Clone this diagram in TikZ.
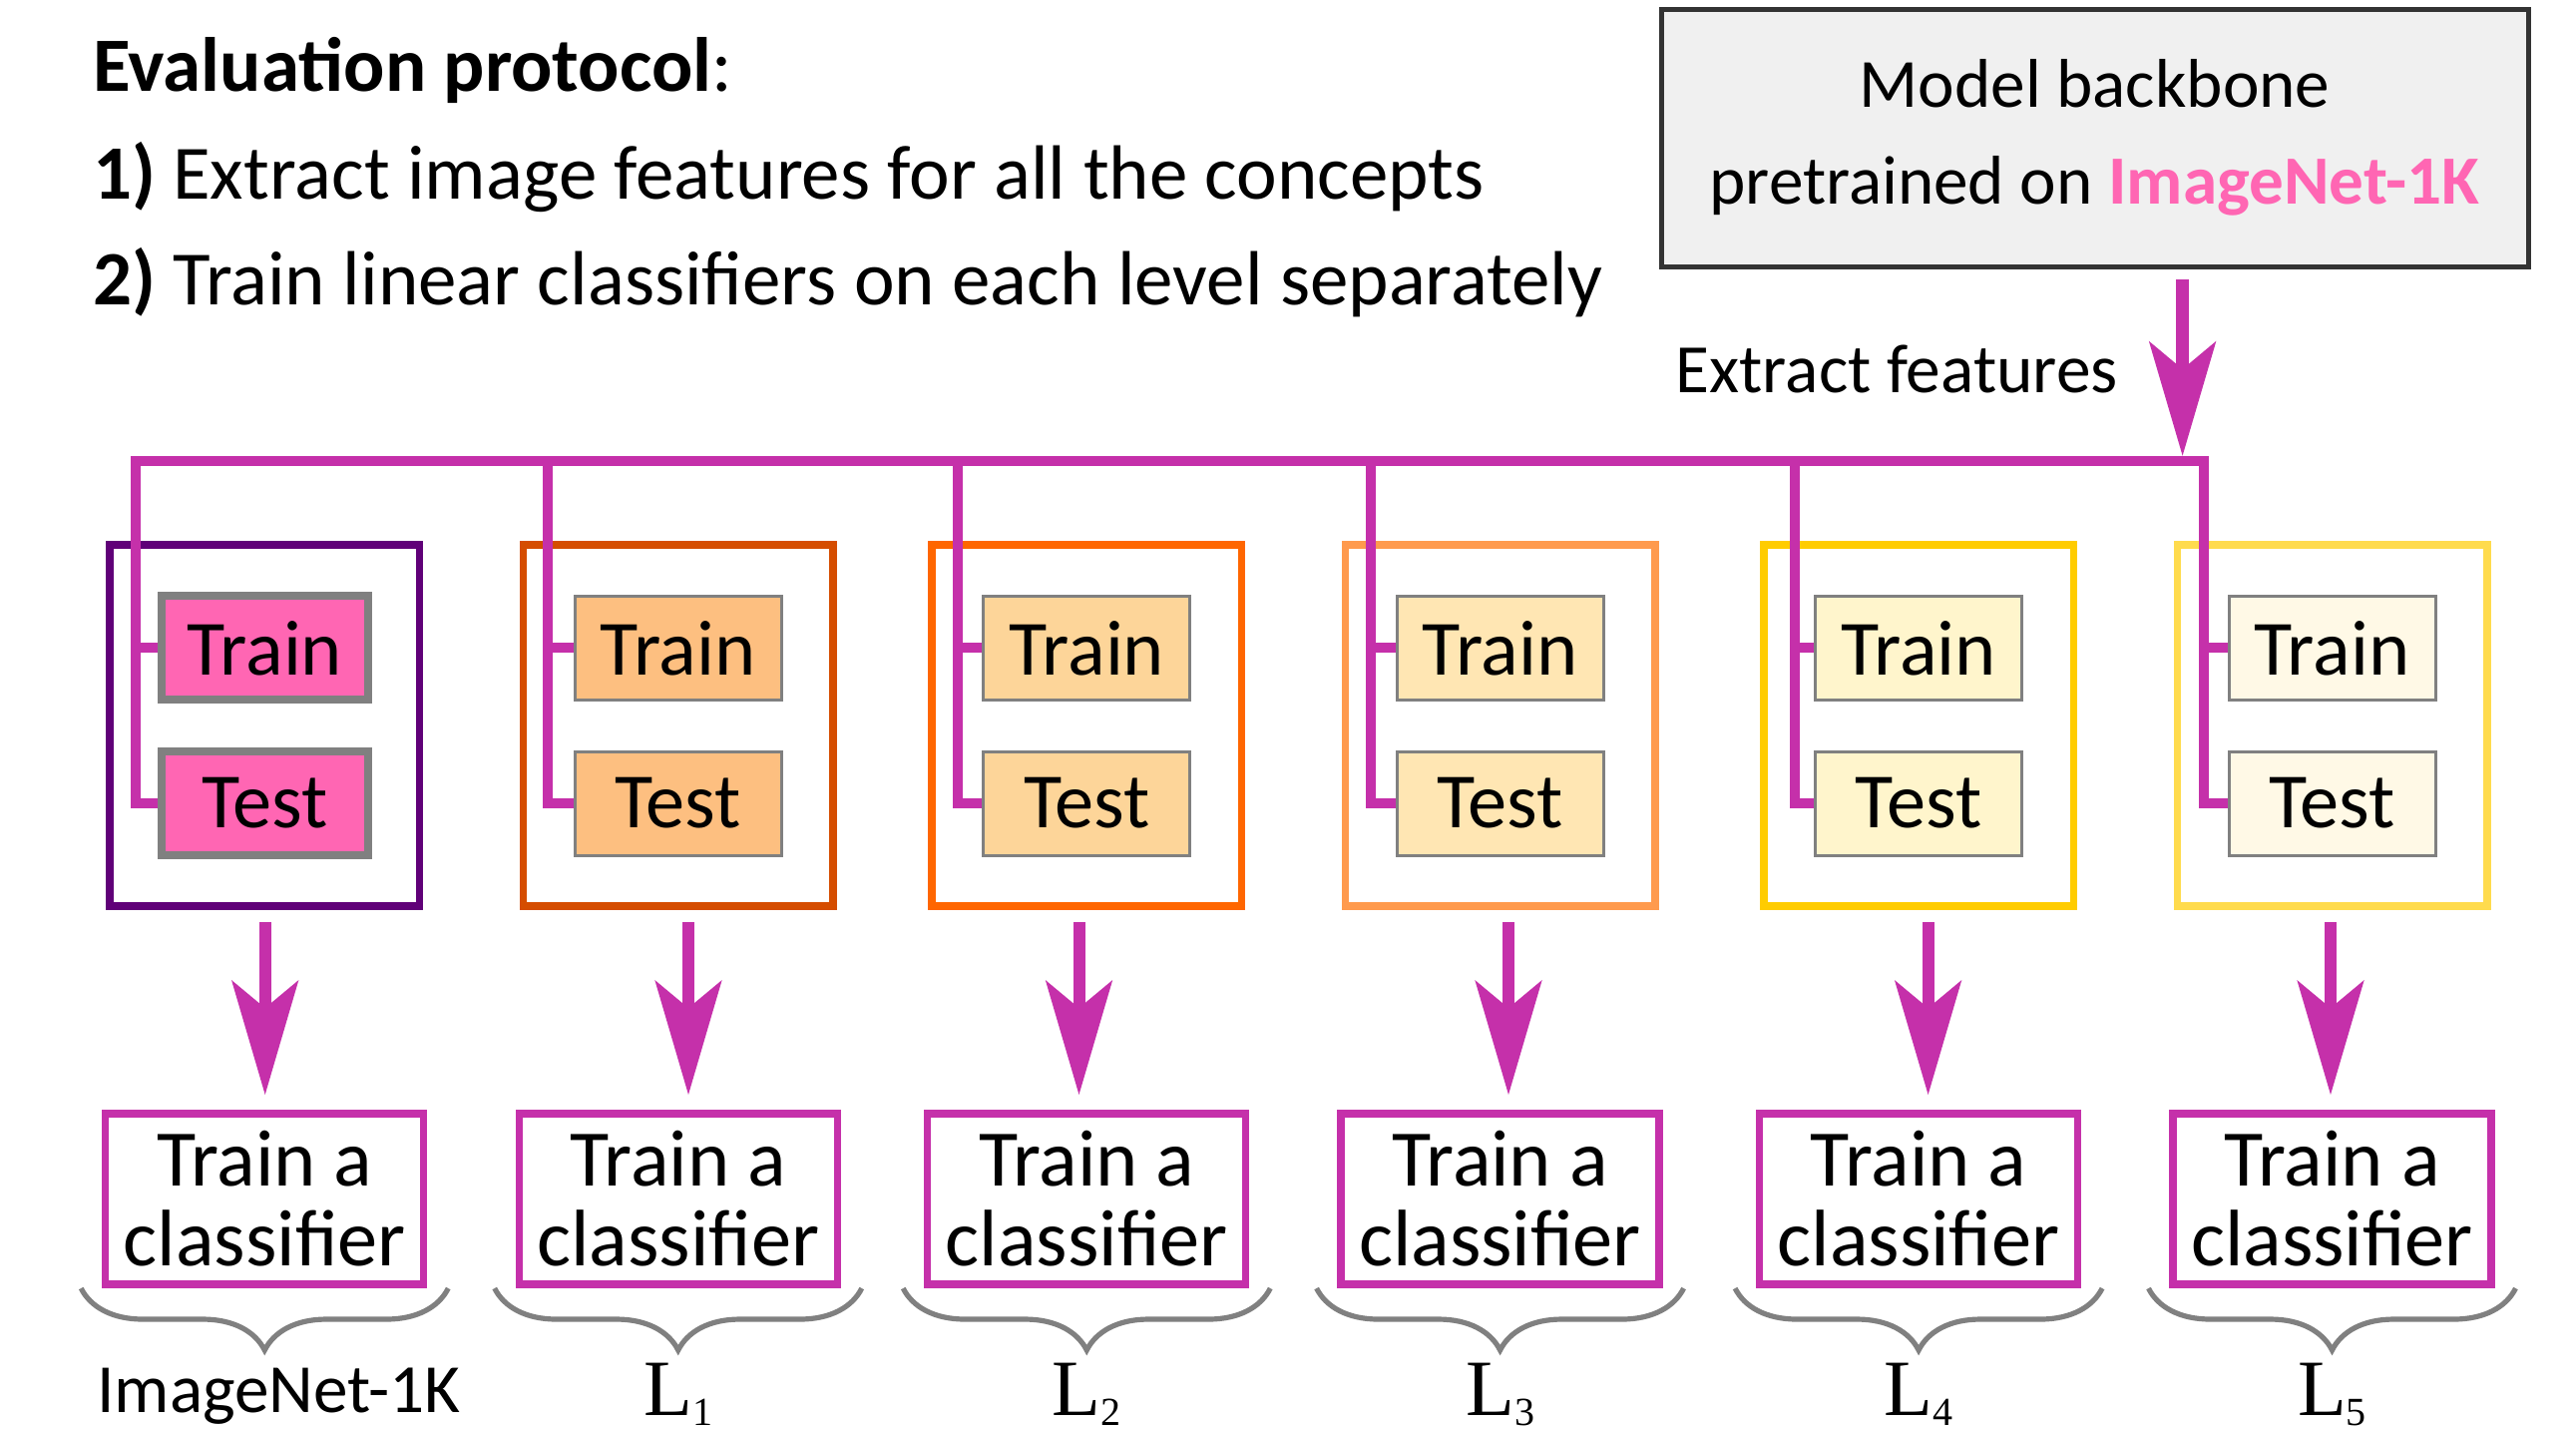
\documentclass[tikz,border=0pt]{standalone}
\usepackage{fontspec}
\setmainfont{Carlito}
\newfontfamily\tms{Liberation Serif}
\usetikzlibrary{arrows.meta,decorations.pathreplacing,calc}
\definecolor{mag}{HTML}{C530AA}
\definecolor{pinkI}{HTML}{FF66B3}
\definecolor{oc1}{HTML}{600078}
\definecolor{oc2}{HTML}{D54D00}
\definecolor{oc3}{HTML}{FF6600}
\definecolor{oc4}{HTML}{FF9A4D}
\definecolor{oc5}{HTML}{FFCC00}
\definecolor{oc6}{HTML}{FFDB4D}
\definecolor{fc1}{HTML}{FF66B3}
\definecolor{fc2}{HTML}{FDBF80}
\definecolor{fc3}{HTML}{FDD599}
\definecolor{fc4}{HTML}{FFE6B3}
\definecolor{fc5}{HTML}{FFF5CC}
\definecolor{fc6}{HTML}{FFF9E6}
\definecolor{boxgray}{HTML}{808080}
\definecolor{bbfill}{HTML}{F0F0F0}
\definecolor{bbdraw}{HTML}{333333}
\newcommand\Lsub[1]{{\tms\fontsize{40}{40}\selectfont L\raisebox{-5pt}{\fontsize{20}{20}\selectfont #1}}}
\begin{document}
\begin{tikzpicture}[x=0.5pt,y=-0.5pt,
  outerbox/.style={draw, line width=3.75pt, minimum width=155.25pt, minimum height=181pt, inner sep=0pt},
  tbox/.style={draw=boxgray, line width=1.5pt, minimum width=103.5pt, minimum height=52pt, inner sep=0pt, font=\fontsize{39.2}{39.2}\selectfont},
  clsbox/.style={draw=mag, line width=3.7pt, minimum width=159.5pt, minimum height=85.5pt, align=center, inner sep=0pt, font=\fontsize{40.2}{40}\selectfont},
  conn/.style={draw=mag, line width=5pt},
  arr/.style={draw=mag, line width=6pt, -{Stealth[length=57pt,width=33pt,inset=13.5pt]}},
  brc/.style={draw=boxgray, line width=2.6pt, decorate, decoration={brace, mirror, amplitude=31pt}},
  txt/.style={inner sep=0pt, font=\fontsize{38.5}{38.5}\selectfont},
  lbl/.style={inner sep=0pt, font=\fontsize{34.6}{34.6}\selectfont}]
\useasboundingbox (0,0) rectangle (2582,1432);

% title
\node[txt, anchor=base west] (t1) at (92.6,91) {\textbf{Evaluation protocol}:};
\node[txt, anchor=base west] (t2) at (92.6,199) {\textbf{1)} Extract image features for all the concepts};
\node[txt, anchor=base west] (t3) at (92.6,305) {\textbf{2)} Train linear classifiers on each level separately};

% backbone
\node[draw=bbdraw, fill=bbfill, line width=2.5pt, minimum width=434.5pt, minimum height=129pt, align=center, inner sep=0pt, font=\fontsize{34.6}{48.5}\selectfont] (bb) at (2099.5,138) {Model backbone\\pretrained on \textcolor{pinkI}{\textbf{ImageNet-1K}}};
\node[anchor=base east, inner sep=0pt, font=\fontsize{34.7}{34.7}\selectfont] (ef) at (2123,393) {Extract features};

% columns
\foreach \i/\cx/\vx/\ax/\oc/\fc/\lw in {
 1/265.25/135.5/265.7/oc1/fc1/4pt,
 2/679.75/549/690/oc2/fc2/1.5pt,
 3/1089.25/960/1081.5/oc3/fc3/1.5pt,
 4/1503.6/1374/1512/oc4/fc4/1.5pt,
 5/1923.1/1799/1932.6/oc5/fc5/1.5pt,
 6/2337.5/2209/2336/oc6/fc6/1.5pt}{
  \node[outerbox, draw=\oc] (o\i) at (\cx,727) {};
  \node[tbox, fill=\fc, line width=\lw] (tr\i) at (\cx,649.4) {Train};
  \node[tbox, fill=\fc, line width=\lw] (te\i) at (\cx,805) {Test};
  \coordinate (b\i) at (\vx,462);
  \coordinate (ax\i) at (\ax,0);
  \node[clsbox] (c\i) at (\cx,1201.4) {Train a\\classifier};
  \draw[brc] (\cx-184,1291) -- (\cx+184,1291);
}

% connectors
\draw[conn] (te1.west) -| (b1) -- (b6) |- (te6.west);
\foreach \i in {2,...,5} \draw[conn] (b\i) |- (te\i.west);
\foreach \i in {1,...,6} \draw[conn] (tr\i.west -| b\i) -- (tr\i.west);

\coordinate (a0) at (2187.6,457);
\draw[arr, line width=6.5pt, shorten <=5pt] (bb.south -| a0) -- (a0);
\foreach \i in {1,...,6} \draw[arr, shorten <=6pt, shorten >=7.5pt] (o\i.south -| ax\i) -- (c\i.north -| ax\i);

% labels
\node[lbl, anchor=base] (l0) at (279.5,1415) {ImageNet-1K};
\node[anchor=base, inner sep=0pt] (l1) at (680,1418) {\Lsub{1}};
\node[anchor=base, inner sep=0pt] (l2) at (1089.25,1418) {\Lsub{2}};
\node[anchor=base, inner sep=0pt] (l3) at (1503.6,1418) {\Lsub{3}};
\node[anchor=base, inner sep=0pt] (l4) at (1923.1,1418) {\Lsub{4}};
\node[anchor=base, inner sep=0pt] (l5) at (2337.5,1418) {\Lsub{5}};
\end{tikzpicture}
\end{document}
